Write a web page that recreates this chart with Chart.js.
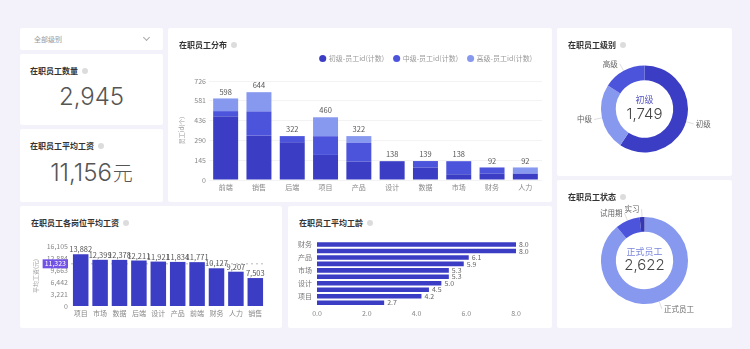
<!DOCTYPE html>
<html>
<head>
<meta charset="utf-8">
<script src="https://cdn.jsdelivr.net/npm/chart.js@4"></script>
<style>
  body { margin:0; width:750px; height:349px; background:#f3f2fa; position:relative; overflow:hidden;
         font-family:"Noto Sans CJK SC","Noto Sans",sans-serif; }
  .card { position:absolute; background:#fff; border-radius:2px; }
  .title { position:absolute; left:11px; top:11px; line-height:12px; font-size:8px; font-weight:bold; color:#333; white-space:nowrap; z-index:2; }
  .info { display:inline-block; width:6px; height:6px; border-radius:50%; background:#dcdcdc; margin-left:4px; vertical-align:0; }
  .box { position:absolute; }
  .kpi { position:absolute; left:0; width:100%; text-align:center; font-family:Inter,"Noto Sans CJK SC",sans-serif;
         font-weight:300; font-size:24px; line-height:28px; color:#555; }
  .kpi .unit { font-family:"Noto Sans CJK SC",sans-serif; font-size:20px; margin-left:1px; }
  .dd { position:absolute; left:14px; top:6px; font-size:7px; line-height:10px; color:#999; }
  .chev { position:absolute; left:124px; top:7px; width:4px; height:4px; border-right:1px solid #aaa; border-bottom:1px solid #aaa; transform:rotate(45deg); }
</style>
</head>
<body>

<div class="card" style="left:20px;top:28px;width:143px;height:22px">
  <span class="dd">全部级别</span><span class="chev"></span>
</div>
<div class="card" style="left:20px;top:54px;width:143px;height:71px">
  <div class="title" style="left:10px">在职员工数量<span class="info"></span></div>
  <div class="kpi" style="top:29px">2,945</div>
</div>
<div class="card" style="left:20px;top:129px;width:143px;height:73px">
  <div class="title" style="left:10px">在职员工平均工资<span class="info"></span></div>
  <div class="kpi" style="top:30px">11,156<span class="unit">元</span></div>
</div>

<div class="card" style="left:168px;top:28px;width:384px;height:174px">
  <div class="title">在职员工分布<span class="info"></span></div>
  <div class="box" style="left:0;top:12px;width:384px;height:162px"><canvas id="dist"></canvas></div>
</div>

<div class="card" style="left:557px;top:28px;width:175px;height:148px">
  <div class="title">在职员工级别<span class="info"></span></div>
  <div class="box" style="left:0;top:0;width:175px;height:148px"><canvas id="level"></canvas></div>
</div>
<div class="card" style="left:557px;top:180px;width:175px;height:148px">
  <div class="title">在职员工状态<span class="info"></span></div>
  <div class="box" style="left:0;top:0;width:175px;height:148px"><canvas id="status"></canvas></div>
</div>

<div class="card" style="left:20px;top:206px;width:262px;height:122px">
  <div class="title">在职员工各岗位平均工资<span class="info"></span></div>
  <div class="box" style="left:0;top:30px;width:262px;height:92px"><canvas id="salary"></canvas></div>
</div>
<div class="card" style="left:288px;top:206px;width:264px;height:122px">
  <div class="title">在职员工平均工龄<span class="info"></span></div>
  <div class="box" style="left:0;top:26px;width:264px;height:90px"><canvas id="tenure"></canvas></div>
</div>

<script>
// 在职员工分布 (stacked by level)
const depts = ['前端', '销售', '后端', '项目', '产品', '设计', '数据', '市场', '财务', '人力']
const juniorCounts = [465, 325, 276, 184, 136, 138, 91, 42, 46, 46]
const midCounts = [40, 178, 46, 137, 136, 0, 48, 96, 46, 0]
const seniorCounts = [93, 141, 0, 139, 50, 0, 0, 0, 0, 46]

// 各岗位平均工资
const salaryDepts = ['项目', '市场', '数据', '后端', '设计', '产品', '前端', '财务', '人力', '销售']
const avgSalary = [13882, 12399, 12378, 12211, 11921, 11834, 11771, 10127, 9207, 7503]
const salaryMean = 11323

// 平均工龄
const tenureDepts = ['财务', '人力', '产品', '后端', '市场', '数据', '设计', '前端', '项目', '销售']
const tenureYears = [8.0, 8.0, 6.1, 5.9, 5.3, 5.3, 5.0, 4.5, 4.2, 2.7]

// 级别 / 状态
const levelNames = ['初级', '中级', '高级']
const levelCounts = [1749, 727, 469]
const statusNames = ['正式员工', '试用期', '实习']
const statusCounts = [2622, 270, 53]

const FONT = '"Noto Sans CJK SC", "Noto Sans", sans-serif'
const DARK = '#3b3ec4', MID = '#4d54dc', LIGHT = '#8798ef'
Chart.defaults.font.family = FONT
Chart.defaults.font.size = 7
Chart.defaults.color = '#888'
Chart.defaults.animation = false
Chart.defaults.plugins.tooltip.enabled = false
const fmt = v => Math.round(v).toLocaleString('en-US')

// labels on top of the stacks
const stackTotals = {
    id: 'stackTotals',
    afterDatasetsDraw(chart) {
        const ctx = chart.ctx
        const last = chart.getDatasetMeta(chart.data.datasets.length - 1)
        ctx.save()
        ctx.font = '7.5px ' + FONT
        ctx.fillStyle = '#555'
        ctx.textAlign = 'center'
        ctx.textBaseline = 'bottom'
        last.data.forEach((bar, i) => {
            let total = chart.data.datasets.reduce((s, d) => s + d.data[i], 0)
            ctx.fillText(fmt(total), bar.x, bar.y - 3)
        })
        ctx.restore()
    }
}

// legend a bit further from the bars
const legendGap = {
    id: 'legendGap',
    beforeInit(chart) {
        const fit = chart.legend.fit
        chart.legend.fit = function () { fit.call(this); this.height += 9 }
    }
}

new Chart(document.getElementById('dist'), {
    type: 'bar',
    data: {
        labels: depts,
        datasets: [
            { label: '初级-员工id(计数)', data: juniorCounts, backgroundColor: DARK },
            { label: '中级-员工id(计数)', data: midCounts, backgroundColor: MID },
            { label: '高级-员工id(计数)', data: seniorCounts, backgroundColor: LIGHT }
        ]
    },
    options: {
        responsive: true, maintainAspectRatio: false,
        layout: { padding: { top: 5, right: 10, bottom: 4, left: 0 } },
        datasets: { bar: { categoryPercentage: 0.75, barPercentage: 1 } },
        plugins: {
            legend: {
                position: 'top', align: 'end',
                labels: { usePointStyle: true, pointStyle: 'circle', boxWidth: 5, boxHeight: 5, padding: 10, color: '#999', font: { size: 7 } }
            }
        },
        scales: {
            x: {
                stacked: true,
                grid: { display: false, drawTicks: false }, border: { display: false },
                ticks: { color: '#888', font: { size: 7 } },
                afterFit: s => { s.height = 18 }
            },
            y: {
                stacked: true, min: 0, max: 726,
                ticks: { stepSize: 145.2, color: '#888', font: { size: 7 }, callback: v => fmt(v) },
                grid: { color: '#f3f3f3', drawTicks: false }, border: { display: false },
                title: { display: true, text: '员工id(个)', color: '#999', font: { size: 6 }, padding: { top: 10, bottom: 0 } },
                afterFit: s => { s.width = 41 }
            }
        }
    },
    plugins: [stackTotals, legendGap]
})

// salary: value labels + mean line
const salaryLabels = {
    id: 'salaryLabels',
    beforeDatasetsDraw(chart) {
        const ctx = chart.ctx, area = chart.chartArea
        const y = chart.scales.y.getPixelForValue(salaryMean)
        ctx.save()
        ctx.strokeStyle = '#b8b8b8'
        ctx.lineWidth = 1
        ctx.setLineDash([2, 3])
        ctx.beginPath()
        ctx.moveTo(area.left, y)
        ctx.lineTo(area.right, y)
        ctx.stroke()
        ctx.restore()
    },
    afterDatasetsDraw(chart) {
        const ctx = chart.ctx
        ctx.save()
        ctx.font = '7.5px ' + FONT
        ctx.fillStyle = '#555'
        ctx.textAlign = 'center'
        ctx.textBaseline = 'bottom'
        chart.getDatasetMeta(0).data.forEach((bar, i) => {
            ctx.fillText(fmt(avgSalary[i]), bar.x, bar.y - 1)
        })
        // mean badge on the axis
        const y = chart.scales.y.getPixelForValue(salaryMean)
        const right = chart.chartArea.left - 3
        ctx.font = '7px ' + FONT
        const w = ctx.measureText(fmt(salaryMean)).width + 4
        ctx.fillStyle = '#7352e6'
        ctx.fillRect(right - w, y - 4.5, w, 9)
        ctx.fillStyle = '#fff'
        ctx.textAlign = 'right'
        ctx.textBaseline = 'middle'
        ctx.fillText(fmt(salaryMean), right - 2, y)
        ctx.restore()
    }
}

new Chart(document.getElementById('salary'), {
    type: 'bar',
    data: {
        labels: salaryDepts,
        datasets: [{ label: '平均工资', data: avgSalary, backgroundColor: DARK, categoryPercentage: 0.8, barPercentage: 1 }]
    },
    options: {
        responsive: true, maintainAspectRatio: false,
        layout: { padding: { top: 10, right: 17, bottom: 4, left: 0 } },
        plugins: { legend: { display: false } },
        scales: {
            x: {
                grid: { display: false, drawTicks: false }, border: { display: false },
                ticks: { color: '#888', font: { size: 7 }, autoSkip: false, maxRotation: 0 },
                afterFit: s => { s.height = 18 }
            },
            y: {
                min: 0, max: 16105,
                ticks: { stepSize: 3221, color: '#888', font: { size: 7 }, callback: v => fmt(v) },
                grid: { display: false, drawTicks: false }, border: { display: false },
                title: { display: true, text: '平均工资(元)', color: '#999', font: { size: 6 }, padding: { top: 12, bottom: 0 } },
                afterFit: s => { s.width = 51 }
            }
        }
    },
    plugins: [salaryLabels]
})

// tenure: value labels at bar ends
const tenureLabels = {
    id: 'tenureLabels',
    afterDatasetsDraw(chart) {
        const ctx = chart.ctx
        ctx.save()
        ctx.font = '7px ' + FONT
        ctx.fillStyle = '#666'
        ctx.textAlign = 'left'
        ctx.textBaseline = 'middle'
        chart.getDatasetMeta(0).data.forEach((bar, i) => {
            ctx.fillText(tenureYears[i].toFixed(1), bar.x + 3, bar.y)
        })
        ctx.restore()
    }
}

new Chart(document.getElementById('tenure'), {
    type: 'bar',
    data: {
        labels: tenureDepts,
        datasets: [{ label: '平均工龄', data: tenureYears, backgroundColor: DARK, categoryPercentage: 1, barPercentage: 0.7 }]
    },
    options: {
        indexAxis: 'y',
        responsive: true, maintainAspectRatio: false,
        layout: { padding: { top: 5, right: 36, bottom: 2, left: 0 } },
        plugins: { legend: { display: false } },
        scales: {
            x: {
                min: 0, max: 8,
                ticks: { stepSize: 2, color: '#888', font: { size: 7 }, callback: v => v.toFixed(1) },
                grid: { display: false, drawTicks: false }, border: { display: false },
                afterFit: s => { s.height = 14 }
            },
            y: {
                grid: { display: false, drawTicks: false }, border: { display: false },
                ticks: { autoSkip: false, padding: 5, color: '#777', font: { size: 7 },
                         callback: function (v, i) { return i % 2 === 0 ? this.getLabelForValue(v) : '' } },
                afterFit: s => { s.width = 29 }
            }
        }
    },
    plugins: [tenureLabels]
})

// doughnut outside labels + centre text
const donutLabels = {
    id: 'donutLabels',
    afterDraw(chart, args, opts) {
        const ctx = chart.ctx
        const meta = chart.getDatasetMeta(0)
        const values = chart.data.datasets[0].data
        ctx.save()
        meta.data.forEach((arc, i) => {
            const mid = (arc.startAngle + arc.endAngle) / 2
            const c = Math.cos(mid), s = Math.sin(mid)
            const r = arc.outerRadius
            const x1 = arc.x + c * (r + 8), y1 = arc.y + s * (r + 8)
            ctx.strokeStyle = '#d0d0d0'
            ctx.lineWidth = 0.7
            ctx.beginPath()
            ctx.moveTo(arc.x + c * r, arc.y + s * r)
            ctx.lineTo(x1, y1)
            ctx.stroke()
            ctx.font = '7.5px ' + FONT
            ctx.fillStyle = '#666'
            ctx.textAlign = c < 0 ? 'right' : 'left'
            ctx.textBaseline = 'middle'
            ctx.fillText(chart.data.labels[i], x1 + (c < 0 ? -2 : 2), y1)
        })
        const a = chart.chartArea
        const cx = (a.left + a.right) / 2, cy = (a.top + a.bottom) / 2
        ctx.textAlign = 'center'
        ctx.textBaseline = 'middle'
        ctx.font = '9px ' + FONT
        ctx.fillStyle = opts.color
        ctx.fillText(chart.data.labels[0], cx, cy - 9)
        ctx.font = '300 15px Inter, ' + FONT
        ctx.fillStyle = '#444'
        ctx.fillText(fmt(values[0]), cx, cy + 5)
        ctx.restore()
    }
}

function donut(id, labels, values, colors, padding, centreColor) {
    new Chart(document.getElementById(id), {
        type: 'doughnut',
        data: { labels: labels, datasets: [{ data: values, backgroundColor: colors, borderWidth: 0 }] },
        options: {
            responsive: true, maintainAspectRatio: false,
            cutout: '66%',
            layout: { padding: padding },
            plugins: { legend: { display: false }, donutLabels: { color: centreColor } }
        },
        plugins: [donutLabels]
    })
}

donut('level', levelNames, levelCounts, [DARK, LIGHT, MID], { left: 44, right: 44, top: 37, bottom: 23 }, '#5656c4')
donut('status', statusNames, statusCounts, [LIGHT, MID, '#3638b2'], { left: 44, right: 44, top: 37, bottom: 24 }, '#7b86dc')
</script>
</body>
</html>
